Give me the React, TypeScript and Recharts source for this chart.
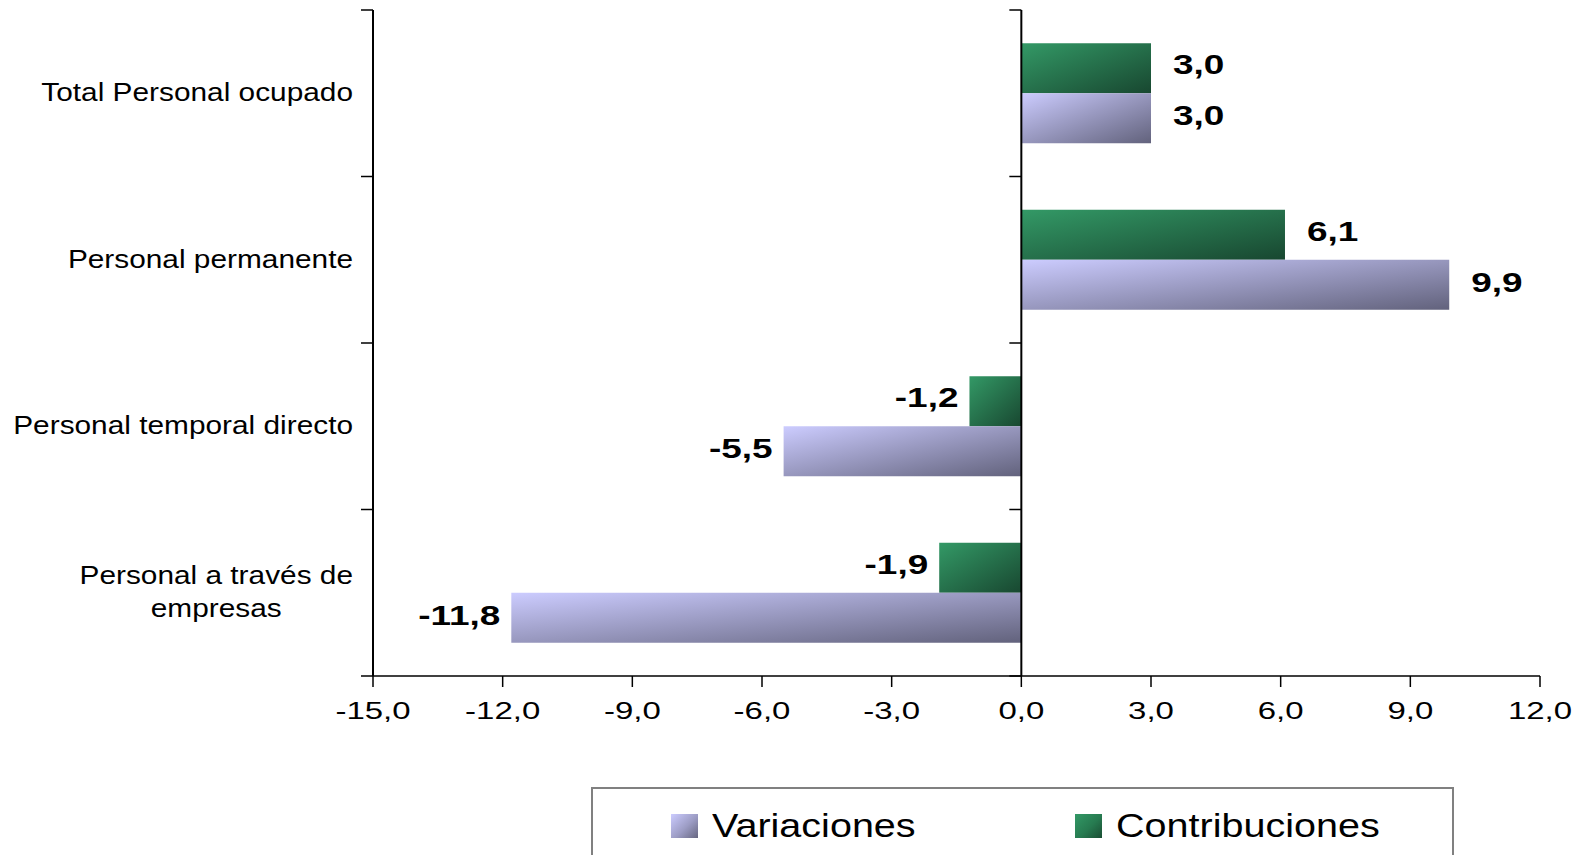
import React from 'react';
import { BarChart, Bar, XAxis, YAxis, ReferenceLine, LabelList } from 'recharts';

const categories = [
  'Total Personal ocupado',
  'Personal permanente',
  'Personal temporal directo',
  'Personal a través de empresas',
];
const variaciones = [3.0, 9.9, -5.5, -11.8];
const contribuciones = [3.0, 6.1, -1.2, -1.9];
const xTicks = [-15, -12, -9, -6, -3, 0, 3, 6, 9, 12];
const seriesNames = ['Variaciones', 'Contribuciones'];

const data = categories.map((name, i) => ({
  name,
  variaciones: variaciones[i],
  contribuciones: contribuciones[i],
}));

const W = 1581;
const H = 855;
const PLOT_LEFT = 373;
const PLOT_RIGHT = 1540;
const PLOT_TOP = 10;
const PLOT_BOTTOM = 676;
const X_MIN = -15;
const X_MAX = 12;
const BAND = (PLOT_BOTTOM - PLOT_TOP) / categories.length;
const ZERO_X = PLOT_LEFT + ((0 - X_MIN) / (X_MAX - X_MIN)) * (PLOT_RIGHT - PLOT_LEFT);
const FONT = '"Liberation Sans", Arial, sans-serif';

const fmt = (v: number) => v.toFixed(1).replace('.', ',');

let ctx: CanvasRenderingContext2D | null = null;
const measure = (text: string, font: string) => {
  if (!ctx) ctx = document.createElement('canvas').getContext('2d');
  if (!ctx) return text.length * 12;
  ctx.font = font;
  return ctx.measureText(text).width;
};

const wrap = (text: string, max = 25) => {
  const words = text.split(' ');
  const lines: string[] = [];
  let cur = '';
  words.forEach((w) => {
    const next = cur ? cur + ' ' + w : w;
    if (next.length > max && cur) {
      lines.push(cur);
      cur = w;
    } else cur = next;
  });
  if (cur) lines.push(cur);
  return lines;
};

const CAT_SIZE = 26.4;
const CAT_SCALE = 1.13;

const CategoryTick = (props: any) => {
  const { y, payload, index } = props;
  const lines = wrap(payload.value);
  const right = PLOT_LEFT - 20;
  const lineH = 33;
  const startY = y - ((lines.length - 1) * lineH) / 2 + 8;
  const widest = Math.max(...lines.map((l) => measure(l, `${CAT_SIZE}px ${FONT}`))) * CAT_SCALE;
  const top = y - BAND / 2;
  const marks = [top];
  if (index === categories.length - 1) marks.push(y + BAND / 2);
  return (
    <g>
      {marks.map((my, k) => (
        <g key={k}>
          <line x1={PLOT_LEFT - 12} x2={PLOT_LEFT} y1={my} y2={my} stroke="#000" strokeWidth={1.5} />
          <line x1={ZERO_X - 12} x2={ZERO_X} y1={my} y2={my} stroke="#000" strokeWidth={1.5} />
        </g>
      ))}
      {lines.map((l, k) => {
        const single = lines.length === 1;
        const ax = single ? right : right - widest / 2;
        return (
          <text
            key={k}
            transform={`translate(${ax},${startY + k * lineH}) scale(${CAT_SCALE},1)`}
            textAnchor={single ? 'end' : 'middle'}
            fontFamily={FONT}
            fontSize={CAT_SIZE}
            fill="#000"
          >
            {l}
          </text>
        );
      })}
    </g>
  );
};

const XTick = (props: any) => {
  const { x, y, payload } = props;
  return (
    <text
      transform={`translate(${x},${y + 30}) scale(1.33,1)`}
      textAnchor="middle"
      fontFamily={FONT}
      fontSize={24.8}
      fill="#000"
    >
      {fmt(payload.value)}
    </text>
  );
};

const ValueLabel = (props: any) => {
  const { x, y, width, height, value, shiftY = 0 } = props;
  const a = Number(x);
  const b = Number(x) + Number(width);
  const cy = Number(y) + Number(height) / 2 + 10 + shiftY;
  const pos = value >= 0;
  const end = pos ? Math.max(a, b) + 22 : Math.min(a, b) - 11;
  return (
    <text
      transform={`translate(${end},${cy}) scale(1.32,1)`}
      textAnchor={pos ? 'start' : 'end'}
      fontFamily={FONT}
      fontWeight="bold"
      fontSize={28}
      fill="#000"
    >
      {fmt(value)}
    </text>
  );
};

const legendColors = [
  'linear-gradient(135deg, #ccccff 0%, #9c9cc4 55%, #666680 100%)',
  'linear-gradient(135deg, #339966 0%, #267a50 55%, #1a4d33 100%)',
];

export default function App() {
  return (
    <div style={{ position: 'absolute', left: 0, top: 0, width: W, height: H, overflow: 'hidden', background: '#fff' }}>
      <BarChart
        layout="vertical"
        width={W}
        height={H}
        data={data}
        margin={{ top: PLOT_TOP, right: W - PLOT_RIGHT, left: 0, bottom: 0 }}
        barCategoryGap="20%"
        barGap={0}
      >
        <defs>
          <linearGradient id="gVar" x1="0" y1="0" x2="1" y2="1">
            <stop offset="0%" stopColor="#ccccff" />
            <stop offset="100%" stopColor="#62627c" />
          </linearGradient>
          <linearGradient id="gCon" x1="0" y1="0" x2="1" y2="1">
            <stop offset="0%" stopColor="#339966" />
            <stop offset="100%" stopColor="#184730" />
          </linearGradient>
        </defs>
        <XAxis
          type="number"
          domain={[X_MIN, X_MAX]}
          ticks={xTicks}
          interval={0}
          height={H - PLOT_BOTTOM}
          tickSize={11}
          axisLine={{ stroke: '#000', strokeWidth: 1.5 }}
          tickLine={{ stroke: '#000', strokeWidth: 1.5 }}
          tick={<XTick />}
        />
        <YAxis
          type="category"
          dataKey="name"
          width={PLOT_LEFT}
          interval={0}
          axisLine={{ stroke: '#000', strokeWidth: 2 }}
          tickLine={false}
          tick={<CategoryTick />}
        />
        <ReferenceLine x={0} stroke="#000" strokeWidth={2} />
        <Bar dataKey="contribuciones" name={seriesNames[1]} fill="url(#gCon)" isAnimationActive={false}>
          <LabelList dataKey="contribuciones" content={<ValueLabel shiftY={-4} />} />
        </Bar>
        <Bar dataKey="variaciones" name={seriesNames[0]} fill="url(#gVar)" isAnimationActive={false}>
          <LabelList dataKey="variaciones" content={<ValueLabel shiftY={-3} />} />
        </Bar>
      </BarChart>
      <div
        style={{
          position: 'absolute',
          left: 591,
          top: 787,
          width: 863,
          height: 120,
          border: '2px solid #808080',
          boxSizing: 'border-box',
        }}
      />
      {seriesNames.map((s, i) => (
        <div
          key={s}
          style={{ position: 'absolute', left: i === 0 ? 671 : 1075, top: 813, height: 26, display: 'flex', alignItems: 'center' }}
        >
          <div style={{ width: 27, height: 24, background: legendColors[i] }} />
          <div
            style={{
              marginLeft: 14,
              fontFamily: FONT,
              fontSize: 33.5,
              lineHeight: '26px',
              color: '#000',
              transform: 'scaleX(1.18)',
              transformOrigin: 'left center',
              whiteSpace: 'nowrap',
            }}
          >
            {s}
          </div>
        </div>
      ))}
    </div>
  );
}
